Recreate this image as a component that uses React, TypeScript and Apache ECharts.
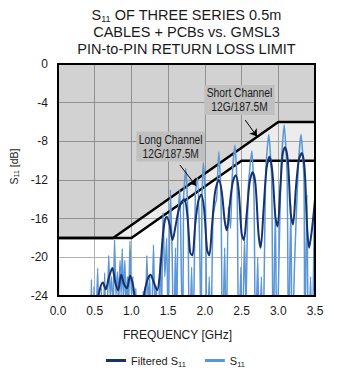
import React, { useEffect, useRef } from 'react';
import * as echarts from 'echarts';

const xMin = 0;
const xMax = 3.5;
const xStep = 0.5;
const yMin = -24;
const yMax = 0;
const yStep = 4;

// GMSL3 pin-to-pin return loss limits [GHz, dB]
const shortChannelLimit: [number, number][] = [[0, -18], [0.75, -18], [3.0, -6], [3.5, -6]];
const longChannelLimit: [number, number][] = [[0, -18], [1.0, -18], [2.5, -10], [3.5, -10]];

// Filtered S11 [GHz, dB]
const filteredS11: [number, number][] = [
  [0, -10.8], [0.004, -30], [0.5, -30], [0.53, -25], [0.57, -23.3], [0.61, -22.6], [0.65, -23.3],
  [0.69, -22.2], [0.74, -21.1], [0.78, -22.6], [0.82, -23.4], [0.86, -21.8], [0.9, -22.8],
  [0.94, -23.2], [0.98, -21.9], [1.02, -22.8], [1.05, -24.5], [1.08, -27], [1.13, -27],
  [1.17, -24], [1.21, -22.5], [1.26, -21.8], [1.3, -22.5], [1.35, -23.4], [1.39, -21.5],
  [1.42, -18.5], [1.45, -16.4], [1.48, -15.8], [1.52, -16.6], [1.56, -18.2], [1.6, -16.8],
  [1.64, -15.2], [1.68, -14.3], [1.72, -14.0], [1.76, -15.5], [1.8, -19.5], [1.83, -19.8],
  [1.87, -16.5], [1.91, -14.2], [1.95, -13.5], [1.99, -15.0], [2.03, -19.2], [2.06, -19.8],
  [2.1, -16.5], [2.14, -13.2], [2.19, -12.0], [2.23, -13.2], [2.27, -16.2], [2.3, -17.2],
  [2.34, -14.5], [2.38, -12.2], [2.42, -11.5], [2.46, -13.0], [2.5, -17.5], [2.53, -18.2],
  [2.57, -15.5], [2.61, -12.2], [2.65, -11.2], [2.69, -12.5], [2.73, -17.5], [2.76, -19.0],
  [2.8, -15.0], [2.84, -10.8], [2.88, -9.6], [2.92, -11.2], [2.96, -15.8], [2.99, -16.8],
  [3.03, -12.5], [3.06, -9.3], [3.09, -8.6], [3.13, -10.0], [3.17, -15.5], [3.2, -16.6],
  [3.24, -12.8], [3.28, -9.9], [3.32, -9.2], [3.36, -11.0], [3.39, -16.5], [3.42, -19.0],
  [3.46, -17.0], [3.5, -14.0],
];

// Raw S11 [GHz, dB]
const rawS11: [number, number][] = [
  [0, -11.8], [0.004, -30], [0.44, -30], [0.455, -22.3], [0.47, -30], [0.49, -23.0], [0.51, -30],
  [0.54, -21.1], [0.565, -30], [0.59, -23.2], [0.61, -30], [0.635, -21.6], [0.66, -30],
  [0.69, -19.8], [0.71, -24], [0.73, -22.0], [0.75, -26], [0.77, -18.2], [0.79, -24],
  [0.81, -21.5], [0.825, -25], [0.845, -20.3], [0.86, -24], [0.875, -19.1], [0.89, -24.5],
  [0.91, -20.3], [0.925, -25], [0.945, -22.0], [0.96, -26], [0.98, -18.3], [1.0, -24],
  [1.02, -22.0], [1.04, -30], [1.06, -23.2], [1.08, -30], [1.14, -30], [1.16, -23.5],
  [1.18, -30], [1.21, -19.8], [1.23, -25], [1.25, -22.0], [1.27, -30], [1.3, -18.7],
  [1.32, -25], [1.34, -23.0], [1.36, -30], [1.39, -20.0], [1.41, -26], [1.43, -15.4],
  [1.455, -22], [1.48, -18.0], [1.5, -28], [1.53, -13.0], [1.555, -20], [1.575, -30],
  [1.6, -19.0], [1.615, -28], [1.635, -15.6], [1.66, -13.0], [1.68, -22], [1.7, -30],
  [1.71, -14], [1.74, -10.8], [1.77, -16], [1.79, -30], [1.82, -21], [1.84, -30], [1.87, -13.5],
  [1.9, -11.8], [1.93, -19], [1.95, -30], [1.96, -14], [1.98, -10.2], [2.01, -15], [2.03, -30],
  [2.06, -22], [2.08, -30], [2.11, -16], [2.14, -14.5], [2.16, -14], [2.19, -9.1],
  [2.22, -14], [2.24, -30], [2.27, -19], [2.29, -30], [2.32, -14.8], [2.35, -17],
  [2.37, -12], [2.41, -8.4], [2.44, -13], [2.46, -30], [2.49, -21], [2.51, -30],
  [2.54, -18], [2.56, -25], [2.59, -13], [2.64, -9.0], [2.67, -14], [2.69, -30],
  [2.72, -20], [2.74, -30], [2.77, -22], [2.79, -30], [2.83, -11], [2.87, -7.3],
  [2.91, -12], [2.93, -30], [2.96, -15], [2.98, -30], [3.01, -20], [3.04, -10.5],
  [3.08, -6.3], [3.12, -11.5], [3.14, -30], [3.17, -14.5], [3.19, -30], [3.22, -21],
  [3.27, -11], [3.31, -7.3], [3.35, -12], [3.36, -30], [3.39, -13.5], [3.41, -30],
  [3.44, -22], [3.46, -30], [3.49, -16], [3.5, -13],
];

// Annotation arrows [GHz, dB]
const shortArrow: [number, number][] = [[2.55, -5.8], [2.71, -7.5]];
const longArrow: [number, number][] = [[1.66, -10.45], [1.88, -12.6]];

const FONT = "'Liberation Sans', Arial, Helvetica, sans-serif";
const TXT = '#1a1a1a';

export default function App() {
  const ref = useRef<HTMLDivElement>(null);
  useEffect(() => {
    const chart = echarts.init(ref.current!, null, { renderer: 'svg' });
    const subStyle = (size: number, pad: number) => ({ fontSize: size, fontFamily: FONT, fill: TXT, color: TXT, verticalAlign: 'top', padding: [pad, 0, 0, 0] });
    const mainStyle = (size: number, lh: number) => ({ fontSize: size, fontFamily: FONT, lineHeight: lh, color: TXT, fill: TXT, verticalAlign: 'middle' });
    chart.setOption({
      animation: false,
      grid: { left: 58, top: 64, width: 257, height: 232, show: true, borderColor: '#000', borderWidth: 2, backgroundColor: 'transparent', z: 10 },
      xAxis: {
        type: 'value', min: xMin, max: xMax, interval: xStep,
        axisLine: { show: false }, axisTick: { show: false },
        axisLabel: { margin: 9, fontSize: 12, fontFamily: FONT, color: TXT, formatter: (v: number) => v.toFixed(1) },
        splitLine: { show: true, lineStyle: { color: '#b0b0b0', width: 1 } },
      },
      yAxis: {
        type: 'value', min: yMin, max: yMax, interval: yStep,
        axisLine: { show: false }, axisTick: { show: false },
        axisLabel: { margin: 10, fontSize: 12, fontFamily: FONT, color: TXT },
        splitLine: { show: true, lineStyle: { color: '#b0b0b0', width: 1 } },
      },
      legend: {
        data: ['Filtered S11', 'S11'],
        left: 101, top: 350, itemWidth: 20, itemHeight: 3, itemGap: 19, icon: 'rect',
        textStyle: {
          fontFamily: FONT, fontSize: 11, color: TXT,
          rich: { a: { fontSize: 11, fontFamily: FONT, color: TXT, verticalAlign: 'middle', lineHeight: 14 }, b: { fontSize: 7.5, fontFamily: FONT, color: TXT, verticalAlign: 'top', padding: [7, 0, 0, 0] } },
        },
        formatter: (name: string) => (name === 'S11' ? '{a|S}{b|11}' : '{a|Filtered S}{b|11}'),
      },
      series: [
        {
          name: 'longArea', type: 'line', data: longChannelLimit, symbol: 'none', silent: true,
          lineStyle: { width: 0 }, areaStyle: { color: 'rgba(0,0,0,0.106)', origin: 'end' }, z: 1,
        },
        {
          name: 'shortArea', type: 'line', data: shortChannelLimit, symbol: 'none', silent: true,
          lineStyle: { width: 0 }, areaStyle: { color: 'rgba(0,0,0,0.158)', origin: 'end' }, z: 1,
        },
        {
          name: 'longLimit', type: 'line', data: longChannelLimit, symbol: 'none', silent: true,
          lineStyle: { color: '#000', width: 2.5 }, z: 2,
        },
        {
          name: 'shortLimit', type: 'line', data: shortChannelLimit, symbol: 'none', silent: true,
          lineStyle: { color: '#000', width: 2.5 }, z: 2,
          markLine: {
            silent: true, symbol: ['none', 'arrow'], symbolSize: 7,
            label: { show: false },
            lineStyle: { color: '#000', width: 1, type: 'solid' },
            data: [
              [{ coord: shortArrow[0] }, { coord: shortArrow[1] }],
              [{ coord: longArrow[0] }, { coord: longArrow[1] }],
            ],
          },
        },
        {
          name: 'S11', type: 'line', data: rawS11, symbol: 'none', showSymbol: false, smooth: 0.2,
          itemStyle: { color: '#5a96d8' }, lineStyle: { color: '#5a96d8', width: 1.5 }, z: 3,
        },
        {
          name: 'Filtered S11', type: 'line', data: filteredS11, symbol: 'none', showSymbol: false, smooth: 0.3,
          itemStyle: { color: '#17336f' }, lineStyle: { color: '#17336f', width: 2 }, z: 4,
        },
      ],
      graphic: [
        {
          type: 'text', x: 186.5, y: 6, silent: true,
          style: {
            text: '{m|S}{s|11}{m| OF THREE SERIES 0.5m}\n{m|CABLES + PCBs vs. GMSL3}\n{m|PIN-to-PIN RETURN LOSS LIMIT}',
            textAlign: 'center', textVerticalAlign: 'top', align: 'center', verticalAlign: 'top',
            fill: TXT, fontFamily: FONT, fontSize: 14.5,
            rich: { m: mainStyle(14.5, 17), s: subStyle(9, 8) },
          },
        },
        {
          type: 'text', x: 13.5, y: 166.5, rotation: Math.PI / 2, silent: true,
          style: {
            text: '{m|S}{s|11}{m| [dB]}',
            textAlign: 'center', textVerticalAlign: 'middle', align: 'center', verticalAlign: 'middle',
            fill: TXT, fontFamily: FONT, fontSize: 10.5,
            rich: { m: mainStyle(10.5, 13), s: subStyle(7, 6) },
          },
        },
        {
          type: 'text', x: 177.5, y: 335, silent: true,
          style: { text: 'FREQUENCY [GHz]', textAlign: 'center', textVerticalAlign: 'middle', align: 'center', verticalAlign: 'middle', fill: TXT, fontFamily: FONT, fontSize: 12 },
        },
        {
          type: 'text', x: 239.5, y: 100, scaleX: 0.82, silent: true, z: 20,
          style: {
            text: 'Short Channel\n12G/187.5M', textAlign: 'center', textVerticalAlign: 'middle', align: 'center', verticalAlign: 'middle',
            fill: TXT, fontFamily: FONT, fontSize: 12.5, lineHeight: 14, backgroundColor: '#c0c0c0', padding: [1, 3],
          },
        },
        {
          type: 'text', x: 170.7, y: 146.5, scaleX: 0.82, silent: true, z: 20,
          style: {
            text: 'Long Channel\n12G/187.5M', textAlign: 'center', textVerticalAlign: 'middle', align: 'center', verticalAlign: 'middle',
            fill: TXT, fontFamily: FONT, fontSize: 12.5, lineHeight: 14, backgroundColor: '#c0c0c0', padding: [1, 3],
          },
        },
      ],
    });
    return () => chart.dispose();
  }, []);
  return <div ref={ref} style={{ position: 'absolute', left: 0, top: 0, width: 352, height: 378 }} />;
}
